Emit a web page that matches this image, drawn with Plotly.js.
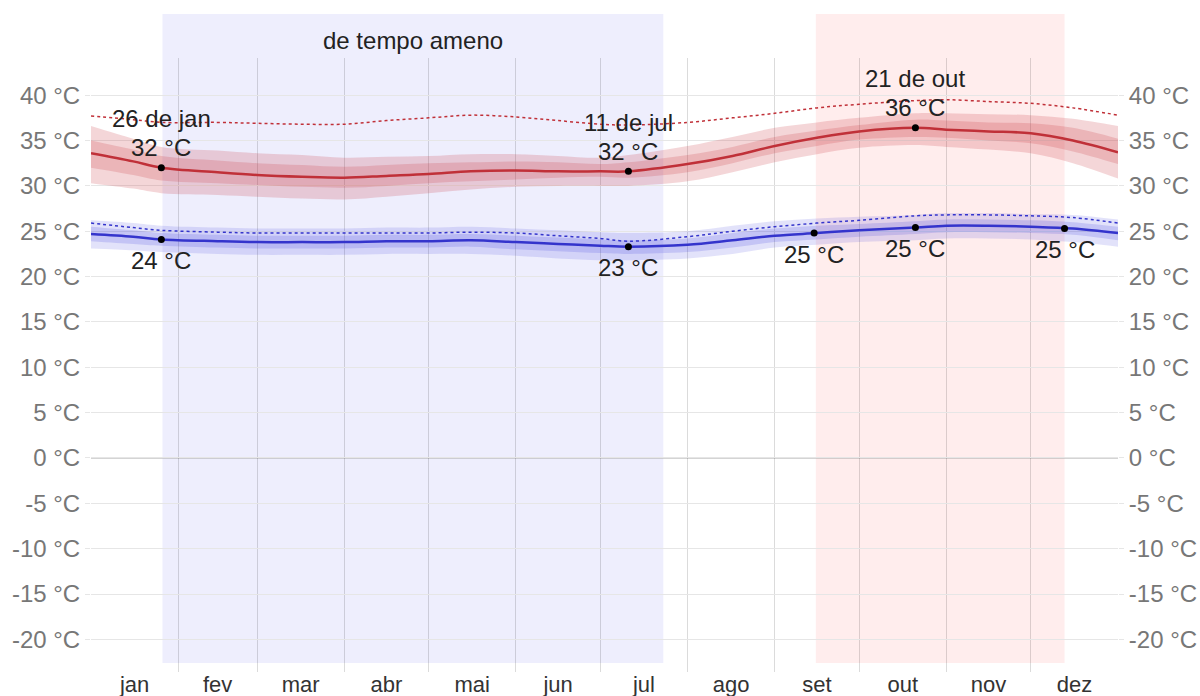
<!DOCTYPE html>
<html>
<head>
<meta charset="utf-8">
<script src="https://cdn.plot.ly/plotly-3.0.1.min.js"></script>
<style>html,body{margin:0;padding:0;background:#fff;}#chart{width:1200px;height:696px;}</style>
</head>
<body>
<div id="chart"></div>
<script>
// Day of year (0 = 1 Jan, 365 = 31 Dec end)
const days = [0, 15, 25, 45, 59, 75, 90, 105, 120, 135, 151, 166, 181, 191, 212, 228, 243, 258, 273, 293, 304, 319, 334, 349, 365];

// Average daily high and its percentile bands
const highAvg = [33.6, 32.7, 32.0, 31.5, 31.2, 31.0, 30.9, 31.1, 31.3, 31.6, 31.7, 31.6, 31.6, 31.6, 32.4, 33.3, 34.4, 35.3, 36.0, 36.4, 36.2, 36.0, 35.8, 35.0, 33.7];
const highP75 = [35.0, 34.0, 33.3, 32.8, 32.5, 32.3, 32.1, 32.3, 32.5, 32.6, 32.7, 32.6, 32.4, 32.6, 33.4, 34.3, 35.4, 36.1, 36.7, 37.3, 37.2, 37.0, 36.9, 36.4, 35.2];
const highP25 = [32.0, 31.2, 30.6, 30.3, 30.1, 29.9, 29.8, 30.0, 30.3, 30.5, 30.7, 30.9, 31.0, 30.9, 31.5, 32.5, 33.6, 34.4, 35.1, 35.4, 35.3, 35.0, 34.7, 33.8, 32.4];
const highP90 = [36.6, 35.2, 34.3, 33.9, 33.6, 33.4, 33.1, 33.2, 33.3, 33.5, 33.5, 33.3, 33.1, 33.4, 34.4, 35.4, 36.4, 37.0, 37.5, 38.0, 38.0, 37.9, 37.8, 37.4, 36.6];
const highP10 = [30.3, 29.7, 29.2, 29.0, 28.8, 28.6, 28.5, 28.8, 29.2, 29.6, 29.9, 30.0, 30.0, 30.0, 30.5, 31.5, 32.6, 33.5, 34.2, 34.5, 34.3, 34.0, 33.6, 32.5, 30.8];
const highFeels = [37.7, 37.3, 37.0, 37.0, 36.9, 36.8, 36.8, 37.2, 37.5, 37.8, 37.6, 37.2, 36.8, 36.7, 37.0, 37.5, 38.0, 38.6, 39.0, 39.4, 39.5, 39.3, 39.1, 38.6, 37.8];

// Average daily low and its percentile bands
const lowAvg = [24.7, 24.4, 24.1, 23.9, 23.8, 23.8, 23.8, 23.9, 23.9, 24.0, 23.8, 23.6, 23.4, 23.3, 23.5, 24.0, 24.5, 24.8, 25.1, 25.4, 25.6, 25.6, 25.5, 25.3, 24.8];
const lowP75 = [25.5, 25.1, 24.8, 24.6, 24.5, 24.5, 24.5, 24.6, 24.6, 24.7, 24.5, 24.3, 24.1, 24.0, 24.2, 24.8, 25.3, 25.6, 25.8, 26.1, 26.3, 26.3, 26.2, 26.0, 25.5];
const lowP25 = [23.9, 23.6, 23.4, 23.2, 23.1, 23.1, 23.1, 23.2, 23.2, 23.3, 23.0, 22.8, 22.6, 22.5, 22.7, 23.2, 23.8, 24.1, 24.4, 24.7, 24.9, 24.9, 24.8, 24.6, 24.0];
const lowP90 = [26.2, 25.9, 25.6, 25.4, 25.3, 25.3, 25.3, 25.4, 25.4, 25.5, 25.3, 25.1, 24.9, 24.8, 25.0, 25.6, 26.1, 26.4, 26.6, 26.8, 27.0, 27.0, 26.9, 26.8, 26.3];
const lowP10 = [23.1, 22.9, 22.7, 22.5, 22.4, 22.4, 22.4, 22.5, 22.5, 22.5, 22.3, 22.0, 21.8, 21.8, 22.0, 22.5, 23.2, 23.5, 23.8, 24.0, 24.2, 24.2, 24.1, 23.8, 23.3];
const lowFeels = [25.9, 25.4, 25.1, 24.9, 24.8, 24.8, 24.8, 24.8, 24.8, 24.9, 24.8, 24.5, 24.2, 23.9, 24.4, 25.0, 25.5, 25.9, 26.2, 26.7, 26.8, 26.8, 26.7, 26.5, 25.9];

// Highlighted points
const hiMarkDays = [25, 191, 293];
const hiMarkVals = [32.0, 31.6, 36.4];
const hiMarkDates = ['26 de jan', '11 de jul', '21 de out'];
const hiMarkLabels = ['32 °C', '32 °C', '36 °C'];
const loMarkDays = [25, 191, 257, 293, 346];
const loMarkVals = [24.1, 23.3, 24.8, 25.4, 25.3];
const loMarkLabels = ['24 °C', '23 °C', '25 °C', '25 °C', '25 °C'];

// Seasons
const mildSeason = [25.4, 203.4];
const mildLabel = 'de tempo ameno';
const hotSeason = [257.6, 346];

// Axis ticks
const monthMid = [15.5, 45, 74.5, 105, 135.5, 166, 196.5, 227.5, 258, 288.5, 319, 349.5];
const monthNames = ['jan', 'fev', 'mar', 'abr', 'mai', 'jun', 'jul', 'ago', 'set', 'out', 'nov', 'dez'];
const monthStart = [31, 59, 90, 120, 151, 181, 212, 243, 273, 304, 334];
const tempTicks = [-20, -15, -10, -5, 0, 5, 10, 15, 20, 25, 30, 35, 40];
const tempTickText = ['-20 °C', '-15 °C', '-10 °C', '-5 °C', '0 °C', '5 °C', '10 °C', '15 °C', '20 °C', '25 °C', '30 °C', '35 °C', '40 °C'];

const FONT = 'Liberation Sans, Arial, sans-serif';
const RED = 'rgb(192,48,56)';
const BLUE = 'rgb(52,52,204)';
const RED_BAND = 'rgba(200,50,60,0.2)';
const BLUE_BAND = 'rgba(60,60,220,0.15)';
const BLUE_BAND2 = 'rgba(60,60,220,0.18)';

function band(lo, hi, color) {
  return [
    {x: days, y: lo, mode: 'lines', line: {width: 0, shape: 'spline'}, hoverinfo: 'skip', showlegend: false},
    {x: days, y: hi, mode: 'lines', line: {width: 0, shape: 'spline'}, fill: 'tonexty', fillcolor: color, hoverinfo: 'skip', showlegend: false}
  ];
}

const traces = [].concat(
  band(highP10, highP90, RED_BAND),
  band(highP25, highP75, RED_BAND),
  band(lowP10, lowP90, BLUE_BAND),
  band(lowP25, lowP75, BLUE_BAND2),
  [
    {x: days, y: highFeels, mode: 'lines', line: {color: RED, width: 1.5, dash: 'dot', shape: 'spline'}, showlegend: false},
    {x: days, y: lowFeels, mode: 'lines', line: {color: BLUE, width: 1.5, dash: 'dot', shape: 'spline'}, showlegend: false},
    {x: days, y: highAvg, mode: 'lines', line: {color: RED, width: 2.5, shape: 'spline'}, showlegend: false},
    {x: days, y: lowAvg, mode: 'lines', line: {color: BLUE, width: 2.5, shape: 'spline'}, showlegend: false},
    {x: hiMarkDays, y: hiMarkVals, mode: 'markers', marker: {color: '#000', size: 7}, showlegend: false},
    {x: loMarkDays, y: loMarkVals, mode: 'markers', marker: {color: '#000', size: 7}, showlegend: false},
    {x: [days[0]], y: [lowAvg[0]], yaxis: 'y2', mode: 'lines', line: {width: 0}, hoverinfo: 'skip', showlegend: false}
  ]
);

const ANN_FONT = {family: FONT, size: 24, color: '#222'};
const annotations = [];
hiMarkDays.forEach((d, i) => {
  annotations.push({x: d, y: hiMarkVals[i], text: hiMarkLabels[i], showarrow: false, yanchor: 'middle', yshift: 20, font: ANN_FONT});
  annotations.push({x: d, y: hiMarkVals[i], text: hiMarkDates[i], showarrow: false, yanchor: 'middle', yshift: 49, font: ANN_FONT});
});
loMarkDays.forEach((d, i) => {
  annotations.push({x: d, y: loMarkVals[i], text: loMarkLabels[i], showarrow: false, yanchor: 'middle', yshift: -21, font: ANN_FONT});
});
annotations.push({x: (mildSeason[0] + mildSeason[1]) / 2, y: 1.028, yref: 'paper', text: mildLabel, showarrow: false, yanchor: 'middle', font: ANN_FONT});

const yAxisCommon = {
  range: [-23.6, 44.1],
  tickmode: 'array', tickvals: tempTicks, ticktext: tempTickText,
  showgrid: true, gridcolor: '#e6e6e6', gridwidth: 1,
  ticks: 'outside', ticklen: 5, tickcolor: '#e6e6e6',
  zeroline: false, showline: false,
  tickfont: {family: FONT, size: 24, color: '#777'},
  fixedrange: true
};

const layout = {
  width: 1200, height: 696,
  margin: {l: 91, r: 82, t: 58, b: 24},
  paper_bgcolor: '#fff', plot_bgcolor: 'rgba(0,0,0,0)',
  showlegend: false,
  xaxis: {
    range: [0, 365],
    tickmode: 'array', tickvals: monthMid, ticktext: monthNames,
    showgrid: false, zeroline: false, showline: false, ticks: '',
    ticklabelstandoff: -3,
    tickfont: {family: FONT, size: 22, color: '#333'},
    minor: {tickmode: 'array', tickvals: monthStart, showgrid: true, gridcolor: 'rgba(0,0,0,0.14)', gridwidth: 1, ticks: ''},
    fixedrange: true
  },
  yaxis: Object.assign({}, yAxisCommon, {side: 'left'}),
  yaxis2: Object.assign({}, yAxisCommon, {side: 'right', overlaying: 'y', anchor: 'x', showgrid: false}),
  shapes: [
    {type: 'rect', xref: 'x', yref: 'paper', x0: mildSeason[0], x1: mildSeason[1], y0: 0.0147, y1: 1.0717, fillcolor: '#eeeefd', line: {width: 0}, layer: 'below'},
    {type: 'rect', xref: 'x', yref: 'paper', x0: hotSeason[0], x1: hotSeason[1], y0: 0.0147, y1: 1.0717, fillcolor: '#ffeded', line: {width: 0}, layer: 'below'},
    {type: 'line', xref: 'paper', yref: 'y', x0: 0, x1: 1, y0: 0, y1: 0, line: {color: '#aaa', width: 1.2}, layer: 'below'}
  ],
  annotations: annotations,
  hovermode: false
};

Plotly.newPlot('chart', traces, layout, {staticPlot: true, displayModeBar: false});
</script>
</body>
</html>
